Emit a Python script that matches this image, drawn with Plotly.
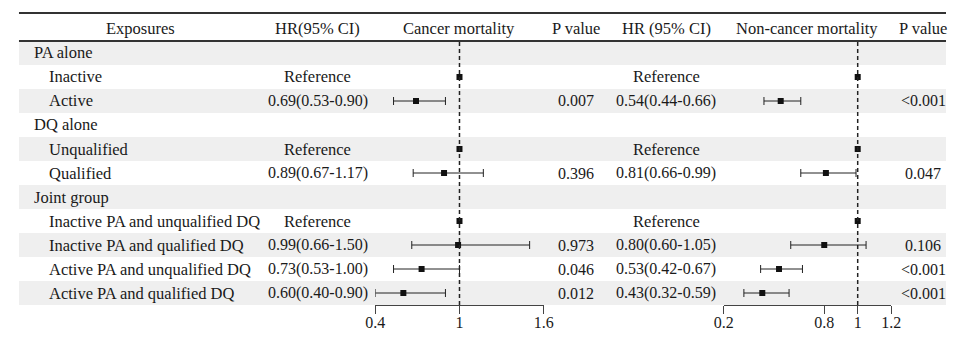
import plotly.graph_objects as go

# ---------------- data ----------------
exposures = ["PA alone", "Inactive", "Active", "DQ alone", "Unqualified", "Qualified",
             "Joint group", "Inactive PA and unqualified DQ", "Inactive PA and qualified DQ",
             "Active PA and unqualified DQ", "Active PA and qualified DQ"]
is_group = [True, False, False, True, False, False, True, False, False, False, False]
is_reference = [False, True, False, False, True, False, False, True, False, False, False]

cancer_hr = [None, 1.0, 0.69, None, 1.0, 0.89, None, 1.0, 0.99, 0.73, 0.60]
cancer_lo = [None, None, 0.53, None, None, 0.67, None, None, 0.66, 0.53, 0.40]
cancer_hi = [None, None, 0.90, None, None, 1.17, None, None, 1.50, 1.00, 0.90]
cancer_p = ["", "", "0.007", "", "", "0.396", "", "", "0.973", "0.046", "0.012"]

noncancer_hr = [None, 1.0, 0.54, None, 1.0, 0.81, None, 1.0, 0.80, 0.53, 0.43]
noncancer_lo = [None, None, 0.44, None, None, 0.66, None, None, 0.60, 0.42, 0.32]
noncancer_hi = [None, None, 0.66, None, None, 0.99, None, None, 1.05, 0.67, 0.59]
noncancer_p = ["", "", "<0.001", "", "", "0.047", "", "", "0.106", "<0.001", "<0.001"]

headers = ["Exposures", "HR(95% CI)", "Cancer mortality", "P value",
           "HR (95% CI)", "Non-cancer mortality", "P value"]

cancer_ticks = [0.4, 1, 1.6]
cancer_ticktext = ["0.4", "1", "1.6"]
noncancer_ticks = [0.2, 0.8, 1, 1.2]
noncancer_ticktext = ["0.2", "0.8", "1", "1.2"]

# ---------------- layout helpers ----------------
W, H = 956, 339          # browser window
OX, OY = 8, 8            # default page body margin
FW, FH = W - OX, H - 2 * OY
FONT = "Liberation Serif, Times New Roman, serif"
FS_TXT = 16.5
FS_NUM = 16
TXT = "#1a1a1a"


def px(x):
    return (x - OX) / FW


def py(y):
    return 1 - (y - OY) / FH


TABLE_TOP, TABLE_BOT = 41, 305
n = len(exposures)
rows = list(range(n))

fig = go.Figure()


def hr_text(hr, lo, hi, ref):
    if hr is None:
        return ""
    if ref:
        return "Reference"
    return f"{hr:.2f}({lo:.2f}-{hi:.2f})"


def add_forest(hrs, los, his, xa, ya):
    ref_y = [i for i in rows if is_reference[i]]
    ref_x = [hrs[i] for i in ref_y]
    est_y = [i for i in rows if hrs[i] is not None and not is_reference[i]]
    est_x = [hrs[i] for i in est_y]
    plus = [his[i] - hrs[i] for i in est_y]
    minus = [hrs[i] - los[i] for i in est_y]
    fig.add_trace(go.Scatter(x=ref_x, y=ref_y, mode="markers", xaxis=xa, yaxis=ya,
                             marker=dict(symbol="square", size=6, color="#111"),
                             cliponaxis=False, showlegend=False))
    fig.add_trace(go.Scatter(x=est_x, y=est_y, mode="markers", xaxis=xa, yaxis=ya,
                             marker=dict(symbol="square", size=6, color="#111"),
                             error_x=dict(type="data", symmetric=False, array=plus,
                                          arrayminus=minus, thickness=1, width=4, color="#222"),
                             cliponaxis=False, showlegend=False))


add_forest(cancer_hr, cancer_lo, cancer_hi, "x", "y")
add_forest(noncancer_hr, noncancer_lo, noncancer_hi, "x2", "y2")

shapes = []
# row shading
for i in rows:
    if i % 2 == 0:
        shapes.append(dict(type="rect", xref="paper", yref="y", x0=px(9), x1=1.0,
                           y0=i - 0.5, y1=i + 0.5, fillcolor="#efefef",
                           line=dict(width=0), layer="below"))
# header lines
for yy in (13, 41):
    shapes.append(dict(type="line", xref="paper", yref="paper", x0=px(9), x1=1.0,
                       y0=py(yy), y1=py(yy), line=dict(color="#333", width=2)))
# dashed reference lines
for xa in ("x", "x2"):
    shapes.append(dict(type="line", xref=xa, yref="paper", x0=1, x1=1,
                       y0=py(TABLE_BOT), y1=py(TABLE_TOP),
                       line=dict(color="#222", width=1.5, dash="4px,3px")))

annotations = []


def ann(x, y, text, xanchor="center", yref="y", size=FS_TXT):
    annotations.append(dict(x=x, y=y, xref="paper", yref=yref, text=text,
                            showarrow=False, xanchor=xanchor, yanchor="middle",
                            font=dict(family=FONT, size=size, color=TXT)))


header_x = [133, 314, 459, 578, 670, 814, 933]
for hx, h in zip(header_x, headers):
    ann(px(hx), py(28), h, yref="paper")

for i in rows:
    if is_group[i]:
        ann(px(22), i, exposures[i], xanchor="left")
    else:
        ann(px(38), i, exposures[i], xanchor="left")
    t1 = hr_text(cancer_hr[i], cancer_lo[i], cancer_hi[i], is_reference[i])
    if t1:
        ann(px(314), i, t1, size=FS_TXT if is_reference[i] else FS_NUM)
    t2 = hr_text(noncancer_hr[i], noncancer_lo[i], noncancer_hi[i], is_reference[i])
    if t2:
        ann(px(670), i, t2, size=FS_TXT if is_reference[i] else FS_NUM)
    if cancer_p[i]:
        ann(px(578), i, cancer_p[i].replace("<", "&lt;"), size=FS_NUM)
    if noncancer_p[i]:
        ann(px(933), i, noncancer_p[i].replace("<", "&lt;"), size=FS_NUM)

axis_common = dict(showgrid=False, zeroline=False, showline=True, linecolor="#444",
                   linewidth=1, ticks="outside", ticklen=8, tickcolor="#444", tickwidth=1,
                   ticklabelstandoff=-5,
                   tickfont=dict(family=FONT, size=FS_NUM, color=TXT), fixedrange=True)
yaxis_common = dict(range=[n - 0.5, -0.5], domain=[py(TABLE_BOT), py(TABLE_TOP)],
                    visible=False, fixedrange=True)

fig.update_layout(
    width=FW, height=FH,
    margin=dict(l=0, r=0, t=0, b=0),
    paper_bgcolor="white", plot_bgcolor="rgba(0,0,0,0)",
    xaxis=dict(domain=[px(373), px(545)], range=[0.4, 1.6], anchor="y",
               tickvals=cancer_ticks, ticktext=cancer_ticktext, **axis_common),
    xaxis2=dict(domain=[px(729), px(900)], range=[0.2, 1.2], anchor="y2",
                tickvals=noncancer_ticks, ticktext=noncancer_ticktext, **axis_common),
    yaxis=dict(anchor="x", **yaxis_common),
    yaxis2=dict(anchor="x2", **yaxis_common),
    shapes=shapes,
    annotations=annotations,
    showlegend=False,
)

fig.write_html("out.html")
